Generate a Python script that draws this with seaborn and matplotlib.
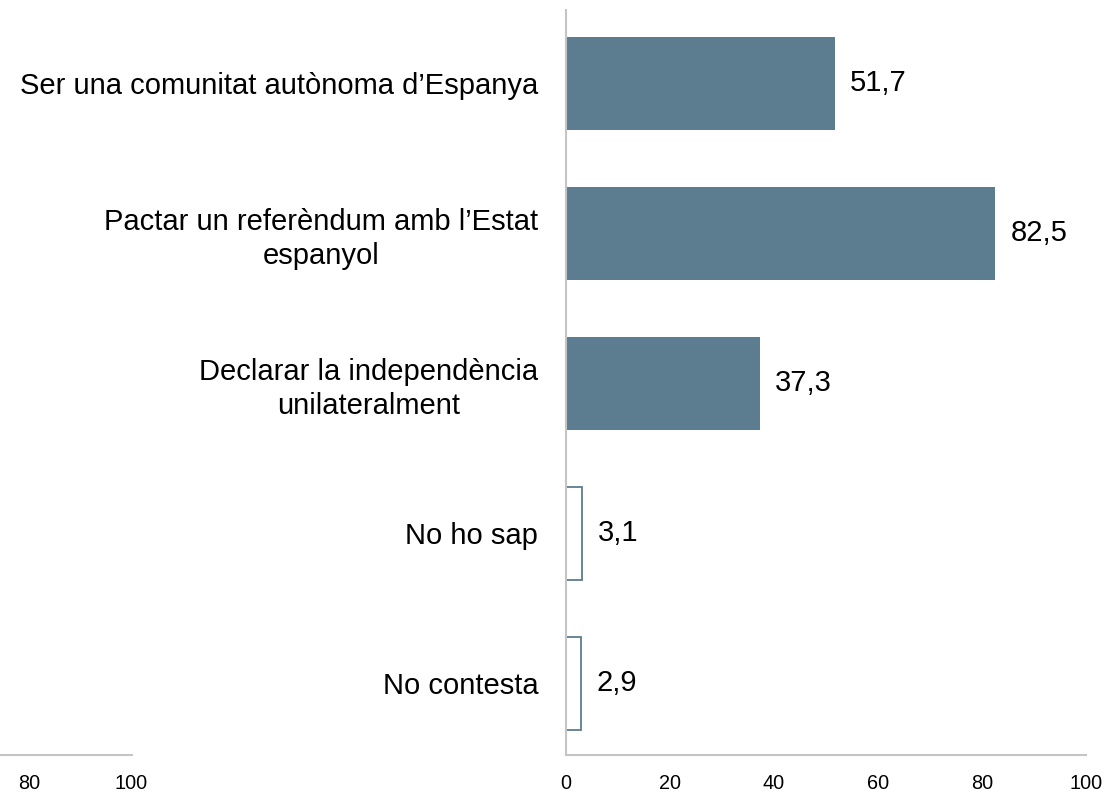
import matplotlib
matplotlib.use("Agg")
import matplotlib.pyplot as plt
import seaborn as sns
import pandas as pd

sns.set_theme(style="white")
plt.rcParams['font.family'] = ['Liberation Sans', 'DejaVu Sans']
plt.rcParams['text.color'] = 'black'
plt.rcParams['xtick.color'] = 'black'
plt.rcParams['ytick.color'] = 'black'

# Data
categories = [
    "Ser una comunitat autònoma d’Espanya",
    "Pactar un referèndum amb l’Estat\nespanyol",
    "Declarar la independència\nunilateralment",
    "No ho sap",
    "No contesta",
]
values = [51.7, 82.5, 37.3, 3.1, 2.9]
x_ticks = [0, 20, 40, 60, 80, 100]

bar_color = "#5b7d8f"
spine_color = "#c4c4c4"

df = pd.DataFrame({"cat": categories, "val": values})

fig = plt.figure(figsize=(11.1, 7.93), dpi=100)
ax = fig.add_axes([566 / 1110, 1 - 755 / 793, 520 / 1110, 745 / 793])

sns.barplot(data=df, x="val", y="cat", orient="h", color=bar_color,
            width=0.62, saturation=1, ax=ax)

# hollow bars for the non-answers
for i, patch in enumerate(ax.patches):
    if i >= 3:
        patch.set_facecolor("white")
        patch.set_edgecolor(bar_color)
        patch.set_linewidth(1.3)
    else:
        patch.set_edgecolor("none")

labels = [f"{v:.1f}".replace(".", ",") for v in values]
ax.bar_label(ax.containers[0], labels=labels, padding=11, fontsize=21, color="black")

ax.set_xticks(x_ticks)
ax.set_xlim(0, 100)
ax.set_ylim(4.48, -0.49)
ax.set_xlabel("")
ax.set_ylabel("")
ax.tick_params(axis="x", length=0, labelsize=14.3, pad=14)
ax.tick_params(axis="y", length=0, labelsize=21, pad=20)
for lab in ax.get_yticklabels():
    lab.set_multialignment("center")
    lab.set_linespacing(1.25)
for s in ["top", "right"]:
    ax.spines[s].set_visible(False)
for s in ["left", "bottom"]:
    ax.spines[s].set_color(spine_color)
    ax.spines[s].set_linewidth(1.5)

# cropped axis of the neighbouring panel on the left
ax2 = fig.add_axes([0, 1 - 755 / 793, 132 / 1110, 745 / 793])
ax2.set_xticks(x_ticks)
ax2.set_xlim(74.2, 100.2)
ax2.set_yticks([])
ax2.tick_params(axis="x", length=0, labelsize=14.3, pad=14)
for s in ["top", "right", "left"]:
    ax2.spines[s].set_visible(False)
ax2.spines["bottom"].set_color(spine_color)
ax2.spines["bottom"].set_linewidth(1.5)
ax2.patch.set_alpha(0)

fig.savefig("out.png", dpi=100)
